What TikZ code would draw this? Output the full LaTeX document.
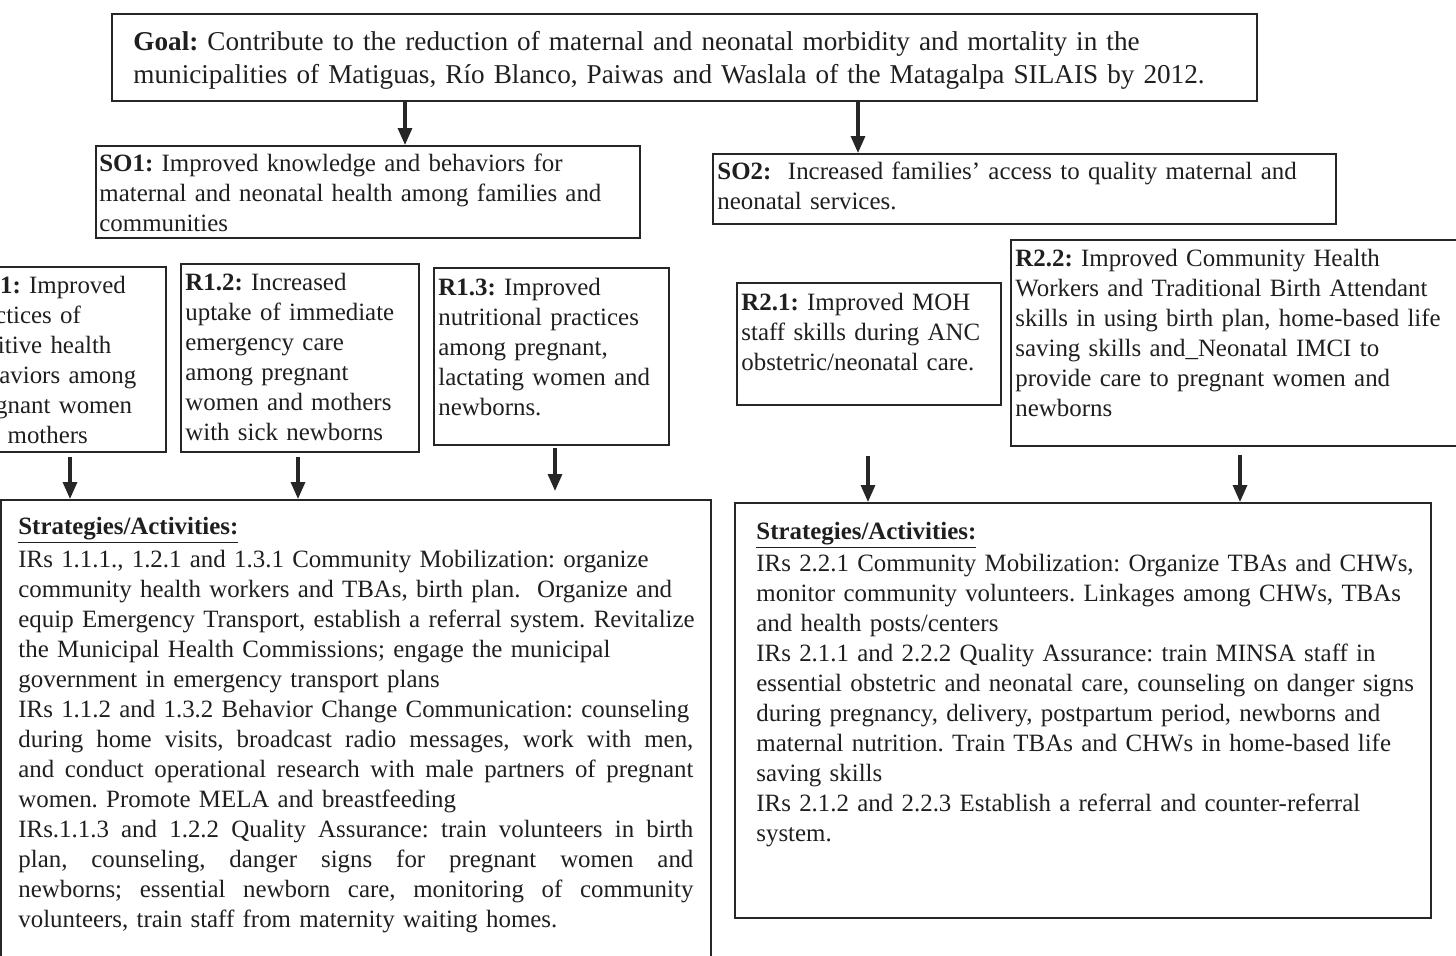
\documentclass[tikz,border=0pt]{standalone}
\usepackage{fontspec}
\setmainfont{Liberation Serif}
\usetikzlibrary{arrows.meta,fit}
\tikzset{
  box/.style={draw=black!85, line width=1pt, inner sep=0pt},
  txt/.style={anchor=base west, inner sep=0pt, align=left, text=black!88,
    font=\fontsize{12.45}{15}\selectfont\frenchspacing},
  arr/.style={draw=black!85, line width=1.6pt, -{Triangle[width=7pt,length=8.5pt]}},
}
\newcommand{\jl}[1]{{\spaceskip=0pt\xspaceskip=0pt\makebox[337.5pt][s]{#1}}}
\newcommand{\ulhead}[1]{\underline{\smash{\textbf{#1}}\vphantom{g}}}
\begin{document}
\begin{tikzpicture}[x=0.5pt,y=-0.5pt]
\useasboundingbox (0,0) rectangle (1456,955);
\clip (0,0) rectangle (1456,955);
\fill[white] (0,0) rectangle (1456,955);

% boxes
\node[box, fit={(112,14)(1257,101)}] (goal) {};
\node[box, fit={(96,146)(640,238)}] (so1) {};
\node[box, fit={(713,154)(1336,224)}] (so2) {};
\node[box, fit={(-60,267)(166,452)}] (r11) {};
\node[box, fit={(181,264)(419,452)}] (r12) {};
\node[box, fit={(434,268)(669,445)}] (r13) {};
\node[box, fit={(737,283)(1001,405)}] (r21) {};
\node[box, fit={(1011,240)(1470,446)}] (r22) {};
\node[box, fit={(1,500)(711,975)}] (s1) {};
\node[box, fit={(735,503)(1431,918)}] (s2) {};

% texts
\node[txt, text width=600pt, font=\fontsize{13.6}{16.5}\selectfont\frenchspacing] (goalt) at (133,50)
 {\textbf{Goal:} Contribute to the reduction of maternal and neonatal morbidity and mortality in the\\
  municipalities of Matiguas, Río Blanco, Paiwas and Waslala of the Matagalpa SILAIS by 2012.};
\node[txt, text width=320pt] (so1t) at (99,171)
 {\textbf{SO1:} Improved knowledge and behaviors for\\
  maternal and neonatal health among families and\\
  communities};
\node[txt, text width=340pt] (so2t) at (717,179)
 {\textbf{SO2:}\ \ Increased families’ access to quality maternal and\\
  neonatal services.};
\node[txt, text width=140pt] (r11t) at (-37,293)
 {\textbf{R1.1:} Improved\\ practices of\\ positive health\\ behaviors among\\ pregnant women\\ and mothers};
\node[txt, text width=140pt] (r12t) at (185,290)
 {\textbf{R1.2:} Increased\\ uptake of immediate\\ emergency care\\ among pregnant\\ women and mothers\\ with sick newborns};
\node[txt, text width=140pt] (r13t) at (438,295)
 {\textbf{R1.3:} Improved\\ nutritional practices\\ among pregnant,\\ lactating women and\\ newborns.};
\node[txt, text width=150pt] (r21t) at (741,310)
 {\textbf{R2.1:} Improved MOH\\ staff skills during ANC\\ obstetric/neonatal care.};
\node[txt, text width=240pt] (r22t) at (1015,266)
 {\textbf{R2.2:} Improved Community Health\\ Workers and Traditional Birth Attendant\\
  skills in using birth plan, home-based life\\ saving skills and\_Neonatal IMCI to\\
  provide care to pregnant women and\\ newborns};
\node[txt, text width=400pt] (s1t) at (18,534)
 {\ulhead{Strategies/Activities:}\\[1.5pt]
  IRs 1.1.1., 1.2.1 and 1.3.1 Community Mobilization: organize\\
  community health workers and TBAs, birth plan.\ \ Organize and\\
  equip Emergency Transport, establish a referral system. Revitalize\\
  the Municipal Health Commissions; engage the municipal\\
  government in emergency transport plans\\
  IRs 1.1.2 and 1.3.2 Behavior Change Communication: counseling\\
  \jl{during home visits, broadcast radio messages, work with men,}\\
  \jl{and conduct operational research with male partners of pregnant}\\
  women. Promote MELA and breastfeeding\\
  \jl{IRs.1.1.3 and 1.2.2 Quality Assurance: train volunteers in birth}\\
  \jl{plan, counseling, danger signs for pregnant women and}\\
  \jl{newborns; essential newborn care, monitoring of community}\\
  volunteers, train staff from maternity waiting homes.};
\node[txt, text width=400pt] (s2t) at (756,539)
 {\ulhead{Strategies/Activities:}\\[1pt]
  IRs 2.2.1 Community Mobilization: Organize TBAs and CHWs,\\
  monitor community volunteers. Linkages among CHWs, TBAs\\
  and health posts/centers\\
  IRs 2.1.1 and 2.2.2 Quality Assurance: train MINSA staff in\\
  essential obstetric and neonatal care, counseling on danger signs\\
  during pregnancy, delivery, postpartum period, newborns and\\
  maternal nutrition. Train TBAs and CHWs in home-based life\\
  saving skills\\
  IRs 2.1.2 and 2.2.3 Establish a referral and counter-referral\\
  system.};

% arrow columns
\coordinate (ca) at (405,0);
\coordinate (cb) at (858,0);
\coordinate (cc) at (70,0);
\coordinate (cd) at (298,0);
\coordinate (ce) at (555,0);
\coordinate (cf) at (868,0);
\coordinate (cg) at (1240,0);

\draw[arr] (goal.south -| ca) -- (so1.north -| ca);
\draw[arr] (goal.south -| cb) -- (so2.north -| cb);
\draw[arr, shorten <=2pt] (r11.south -| cc) -- (s1.north -| cc);
\draw[arr, shorten <=2pt] (r12.south -| cd) -- (s1.north -| cd);
\draw[arr, shorten <=1pt, shorten >=4pt] (r13.south -| ce) -- (s1.north -| ce);
\draw[arr, shorten <=25pt] (r21.south -| cf) -- (s2.north -| cf);
\draw[arr, shorten <=4pt] (r22.south -| cg) -- (s2.north -| cg);
\end{tikzpicture}
\end{document}
